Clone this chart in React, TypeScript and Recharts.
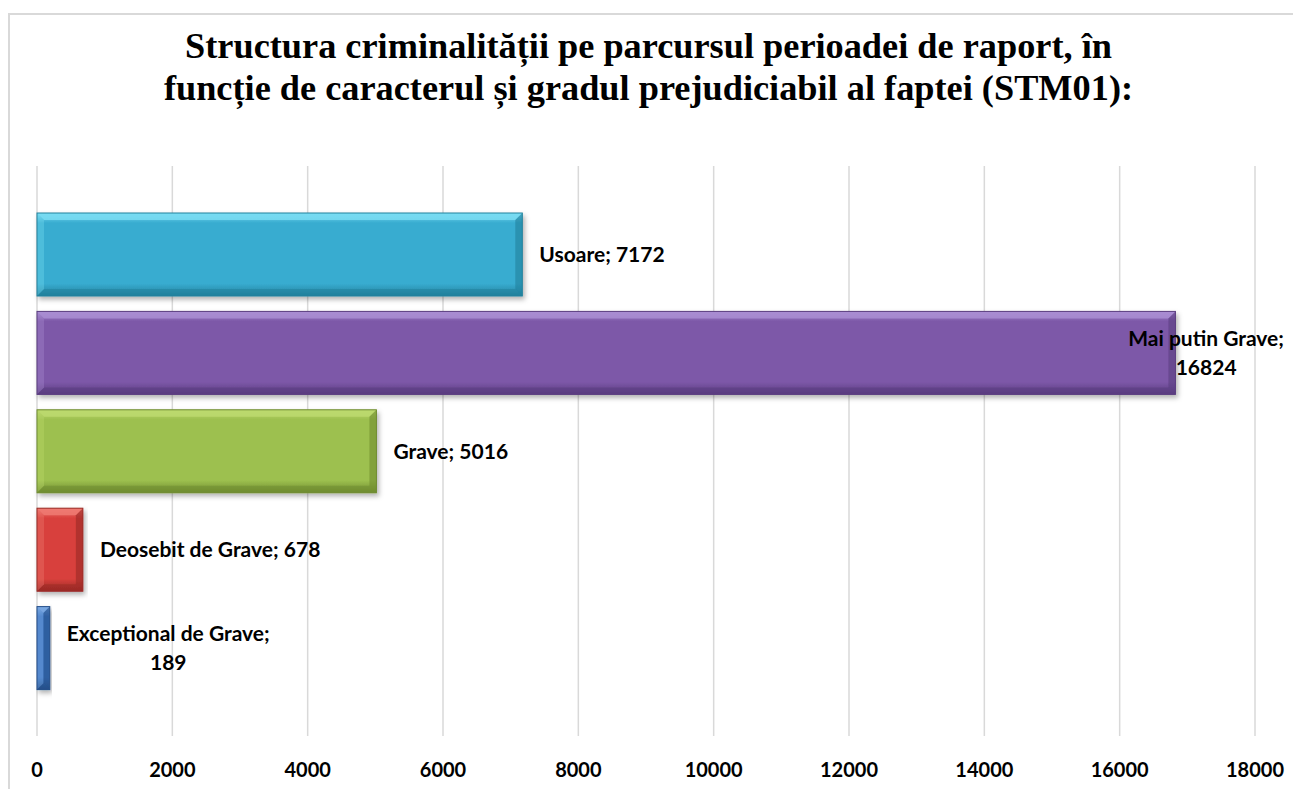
import React from "react";
import { BarChart, Bar, XAxis, YAxis, CartesianGrid, LabelList, Cell } from "recharts";

// categories top -> bottom, as they appear in the chart
const categories = ["Usoare", "Mai putin Grave", "Grave", "Deosebit de Grave", "Exceptional de Grave"];
const values = [7172, 16824, 5016, 678, 189];
const xTicks = [0, 2000, 4000, 6000, 8000, 10000, 12000, 14000, 16000, 18000];

// base / light / dark tones per bar
const barTones = [
  { base: "#38acd0", light: "#79dcf2", dark: "#22819d" },
  { base: "#7d58a8", light: "#a98dd2", dark: "#5a3d80" },
  { base: "#9dc04f", light: "#bcd96e", dark: "#6f8c30" },
  { base: "#d8403c", light: "#ee7a72", dark: "#9a2a26" },
  { base: "#3f78c4", light: "#7aa8e2", dark: "#254f89" }
];

const data = categories.map((name, i) => ({ name, value: values[i] }));

const LABEL_FONT = "bold 21px Lato";
let measureCtx: CanvasRenderingContext2D | null = null;
function textWidth(t: string) {
  if (!measureCtx) measureCtx = document.createElement("canvas").getContext("2d");
  if (!measureCtx) return t.length * 11;
  measureCtx.font = LABEL_FONT;
  return measureCtx.measureText(t).width;
}

const CHART_W = 1285;
const CHART_H = 776;
const RIGHT_LIMIT = 1276;

function BevelBar(props: any) {
  const { x, y, width, height, index } = props;
  const tone = barTones[index];
  const b = Math.min(7, width / 2);
  const id = `g${index}`;
  return (
    <g filter="url(#shadow)">
      <defs>
        <linearGradient id={id} x1="0" y1="0" x2="0" y2="1">
          <stop offset="0%" stopColor={tone.light} />
          <stop offset="12%" stopColor={tone.base} />
          <stop offset="85%" stopColor={tone.base} />
          <stop offset="100%" stopColor={tone.dark} />
        </linearGradient>
      </defs>
      <rect x={x} y={y} width={width} height={height} fill={`url(#${id})`} />
      <polygon points={`${x},${y} ${x + width},${y} ${x + width - b},${y + b} ${x + b},${y + b}`} fill={tone.light} opacity={0.85} />
      <polygon points={`${x + width},${y} ${x + width},${y + height} ${x + width - b},${y + height - b} ${x + width - b},${y + b}`} fill={tone.dark} opacity={0.6} />
      <polygon points={`${x},${y + height} ${x + width},${y + height} ${x + width - b},${y + height - b} ${x + b},${y + height - b}`} fill={tone.dark} opacity={0.55} />
      <polygon points={`${x},${y} ${x + b},${y + b} ${x + b},${y + height - b} ${x},${y + height}`} fill={tone.light} opacity={0.35} />
      <rect x={x} y={y} width={width} height={height} fill="none" stroke={tone.dark} strokeWidth={1} />
    </g>
  );
}

function BarLabel(props: any) {
  const { x, y, width, height, index, value } = props;
  const full = `${categories[index]}; ${value}`;
  const start = x + width + 17;
  const cy = y + height / 2;
  const w = textWidth(full);
  if (w <= 235 && start + w <= RIGHT_LIMIT) {
    return (
      <text x={start} y={cy + 7.5} fontFamily="Lato" fontWeight="bold" fontSize={21} fill="#000">
        {full}
      </text>
    );
  }
  const lines = [`${categories[index]};`, `${value}`];
  const maxW = Math.max(...lines.map(textWidth));
  const cx = Math.min(start + maxW / 2, RIGHT_LIMIT - maxW / 2);
  return (
    <text textAnchor="middle" fontFamily="Lato" fontWeight="bold" fontSize={21} fill="#000">
      <tspan x={cx} y={cy - 14.5 + 7.5}>{lines[0]}</tspan>
      <tspan x={cx} y={cy + 14.5 + 7.5}>{lines[1]}</tspan>
    </text>
  );
}

export default function App() {
  return (
    <div style={{ position: "fixed", left: 8, top: 13, width: CHART_W, height: CHART_H, borderTop: "2px solid #d9d9d9", borderLeft: "2px solid #d9d9d9", boxSizing: "border-box", background: "#fff", overflow: "hidden" }}>
      <div
        style={{
          position: "absolute",
          left: -8,
          top: 10,
          width: 1293,
          textAlign: "center",
          fontFamily: "'Liberation Serif', serif",
          fontWeight: "bold",
          fontSize: 36.3,
          lineHeight: "42px",
          color: "#000"
        }}
      >
        Structura criminalității pe parcursul perioadei de raport, în
        <br />
        funcție de caracterul și gradul prejudiciabil al faptei (STM01):
      </div>
      <div style={{ position: "absolute", left: -2, top: -2 }}>
        <BarChart
          width={CHART_W}
          height={CHART_H}
          data={data}
          layout="vertical"
          margin={{ top: 153, right: 38, bottom: 0, left: 29 }}
        >
          <defs>
            <filter id="shadow" x="-5%" y="-10%" width="115%" height="130%">
              <feDropShadow dx="2" dy="3" stdDeviation="2.5" floodColor="#000" floodOpacity="0.3" />
            </filter>
          </defs>
          <CartesianGrid horizontal={false} stroke="#d9d9d9" strokeWidth={1.5} />
          <XAxis
            type="number"
            domain={[0, 18000]}
            ticks={xTicks}
            interval={0}
            axisLine={false}
            tickLine={false}
            tickSize={0}
            tickMargin={27}
            height={53}
            tick={{ fontFamily: "Lato", fontWeight: "bold", fontSize: 20, fill: "#000" }}
          />
          <YAxis type="category" dataKey="name" hide width={0} padding={{ top: 39, bottom: 39 }} />
          <Bar dataKey="value" barSize={83} isAnimationActive={false} shape={<BevelBar />}>
            {data.map((d, i) => (
              <Cell key={d.name} fill={barTones[i].base} />
            ))}
            <LabelList dataKey="value" content={<BarLabel />} />
          </Bar>
        </BarChart>
      </div>
    </div>
  );
}
